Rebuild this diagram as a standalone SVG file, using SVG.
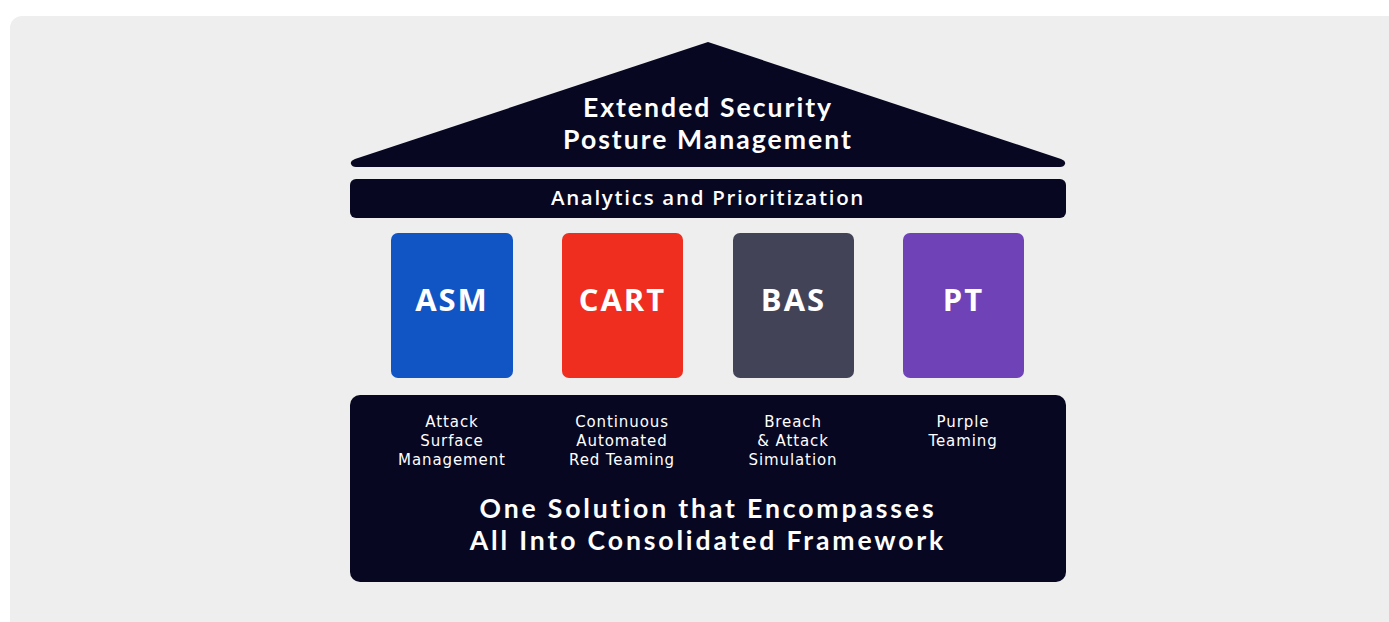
<svg xmlns="http://www.w3.org/2000/svg" width="1389" height="622" viewBox="0 0 1389 622">
<style>
.dark{fill:#070722}
.t{font-family:"Open Sans","Liberation Sans",sans-serif;fill:#ffffff;text-anchor:middle}
.big{font-family:Lato,"Open Sans",sans-serif;font-size:26.6px;font-weight:700;letter-spacing:2px}
.big2{font-family:Lato,"Open Sans",sans-serif;font-size:26.6px;font-weight:700;letter-spacing:2.85px}
.mid{font-size:20.5px;font-weight:600;letter-spacing:1.7px}
.lbl{font-size:31px;font-weight:700;letter-spacing:2px}
.sm{font-family:"DejaVu Sans","Open Sans",sans-serif;font-size:15px;font-weight:400;letter-spacing:0.9px}
</style>
<rect x="0" y="0" width="1389" height="622" fill="#ffffff"/>
<rect x="10" y="16" width="1400" height="630" rx="12" fill="#eeeeee"/>
<g id="roof">
<path class="dark" d="M708,42 L1061,159 Q1066,161 1065,164 Q1064,167 1060,167 L356,167 Q352,167 351,164 Q350,161 355,159 Z"/>
<text class="t big"><tspan x="708" y="117">Extended Security</tspan><tspan x="708" y="149">Posture Management</tspan></text>
</g>
<g id="analytics">
<rect class="dark" x="350" y="179" width="716" height="39" rx="6"/>
<text class="t mid" x="708" y="205">Analytics and Prioritization</text>
</g>
<g id="asm">
<rect x="391" y="233" width="122" height="145" rx="7" fill="#1155c4"/>
<text class="t lbl" x="452" y="311">ASM</text>
</g>
<g id="cart">
<rect x="562" y="233" width="121" height="145" rx="7" fill="#f02e20"/>
<text class="t lbl" x="622.5" y="311">CART</text>
</g>
<g id="bas">
<rect x="733" y="233" width="121" height="145" rx="7" fill="#434358"/>
<text class="t lbl" x="793.5" y="311">BAS</text>
</g>
<g id="pt">
<rect x="903" y="233" width="121" height="145" rx="7" fill="#6f42b8"/>
<text class="t lbl" x="963.5" y="311">PT</text>
</g>
<g id="base">
<rect class="dark" x="350" y="395" width="716" height="187" rx="10"/>
<text class="t sm"><tspan x="452" y="427">Attack</tspan><tspan x="452" y="446">Surface</tspan><tspan x="452" y="465">Management</tspan></text>
<text class="t sm"><tspan x="622" y="427">Continuous</tspan><tspan x="622" y="446">Automated</tspan><tspan x="622" y="465">Red Teaming</tspan></text>
<text class="t sm"><tspan x="793" y="427">Breach</tspan><tspan x="793" y="446">&amp; Attack</tspan><tspan x="793" y="465">Simulation</tspan></text>
<text class="t sm"><tspan x="963" y="427">Purple</tspan><tspan x="963" y="446">Teaming</tspan></text>
<text class="t big2"><tspan x="708" y="518">One Solution that Encompasses</tspan><tspan x="708" y="550">All Into Consolidated Framework</tspan></text>
</g>
<g id="connectors"/>
</svg>
